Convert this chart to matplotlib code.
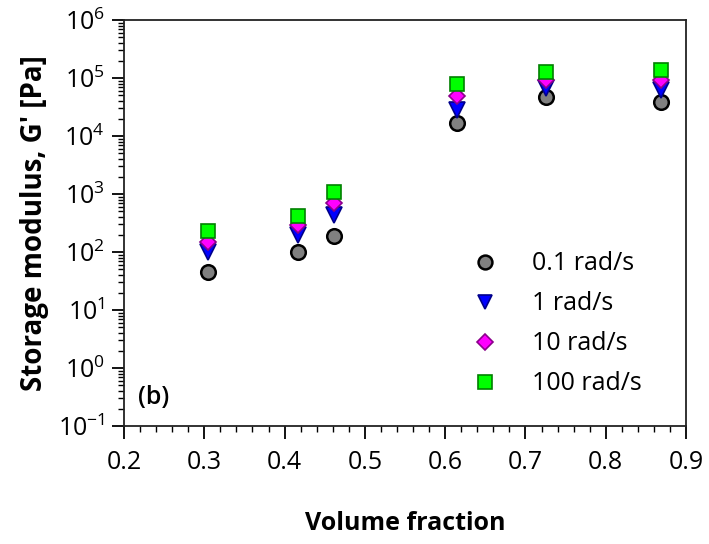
import math
import matplotlib
matplotlib.use("Agg")
import matplotlib.pyplot as plt
from matplotlib.ticker import LogLocator, MultipleLocator, NullFormatter, FuncFormatter

plt.rcParams['font.family'] = ['Open Sans', 'DejaVu Sans']
plt.rcParams['mathtext.fontset'] = 'custom'
plt.rcParams['mathtext.rm'] = 'Open Sans'
plt.rcParams['mathtext.it'] = 'Open Sans'
plt.rcParams['mathtext.bf'] = 'Open Sans:bold'
plt.rcParams['axes.unicode_minus'] = False

volume_fraction = [0.305, 0.417, 0.462, 0.615, 0.725, 0.869]
g_01 = [45, 100, 190, 16600, 47000, 39000]
g_1 = [100, 195, 436, 28000, 68000, 62000]
g_10 = [148, 293, 700, 49000, 92000, 93000]
g_100 = [230, 415, 1070, 79000, 128000, 137000]
series_labels = ['0.1 rad/s', '1 rad/s', '10 rad/s', '100 rad/s']

fig = plt.figure(figsize=(7.09, 5.44), dpi=100)
ax = fig.add_axes([0.1749, 0.2169, 0.7927, 0.7463])

styles = [
    dict(marker='o', markerfacecolor='#808080', markeredgecolor='black', markersize=10.5, markeredgewidth=1.8),
    dict(marker='v', markerfacecolor='#0000FF', markeredgecolor='#00008B', markersize=11, markeredgewidth=1.2),
    dict(marker='D', markerfacecolor='#FF00FF', markeredgecolor='#8B008B', markersize=8.5, markeredgewidth=1.2),
    dict(marker='s', markerfacecolor='#00FF00', markeredgecolor='#008000', markersize=10, markeredgewidth=1.2),
]
for ys, lab, st in zip([g_01, g_1, g_10, g_100], series_labels, styles):
    ax.plot(volume_fraction, ys, linestyle='none', label=lab, **st)

ax.set_yscale('log')
ax.set_ylim(1e-1, 1e6)
ax.set_xlim(0.2, 0.9)
ax.xaxis.set_major_locator(MultipleLocator(0.1))
ax.xaxis.set_minor_locator(MultipleLocator(0.02))
ax.xaxis.set_major_formatter(FuncFormatter(lambda v, p: f"{v:.1f}"))
ax.yaxis.set_major_locator(LogLocator(base=10, numticks=20))
ax.yaxis.set_minor_locator(LogLocator(base=10, subs=range(2, 10), numticks=20))
ax.yaxis.set_minor_formatter(NullFormatter())
ax.yaxis.set_major_formatter(FuncFormatter(
    lambda v, p: r"$\mathregular{10^{%s}}$" % str(round(math.log10(v)))))

ax.tick_params(axis='both', which='major', direction='out', length=9, width=1.3, labelsize=18, colors='black')
ax.tick_params(axis='both', which='minor', direction='out', length=4.5, width=1.0)
ax.tick_params(axis='x', which='major', pad=8)
ax.tick_params(axis='y', which='major', pad=5)
for s in ax.spines.values():
    s.set_linewidth(1.3)
    s.set_color('#222222')

ax.set_xlabel('Volume fraction', fontsize=18, fontweight='bold', labelpad=26)
ax.set_ylabel("Storage modulus, G' [Pa]", fontsize=20, fontweight='bold', labelpad=6)

ax.text(0.025, 0.055, '(b)', transform=ax.transAxes, fontsize=18, fontweight='semibold')

leg = ax.legend(loc='upper left', bbox_to_anchor=(0.58, 0.455), frameon=False, fontsize=18,
                labelspacing=0.6, handletextpad=0.9, markerscale=0.95, borderaxespad=0)

fig.savefig('out.png', dpi=100)
